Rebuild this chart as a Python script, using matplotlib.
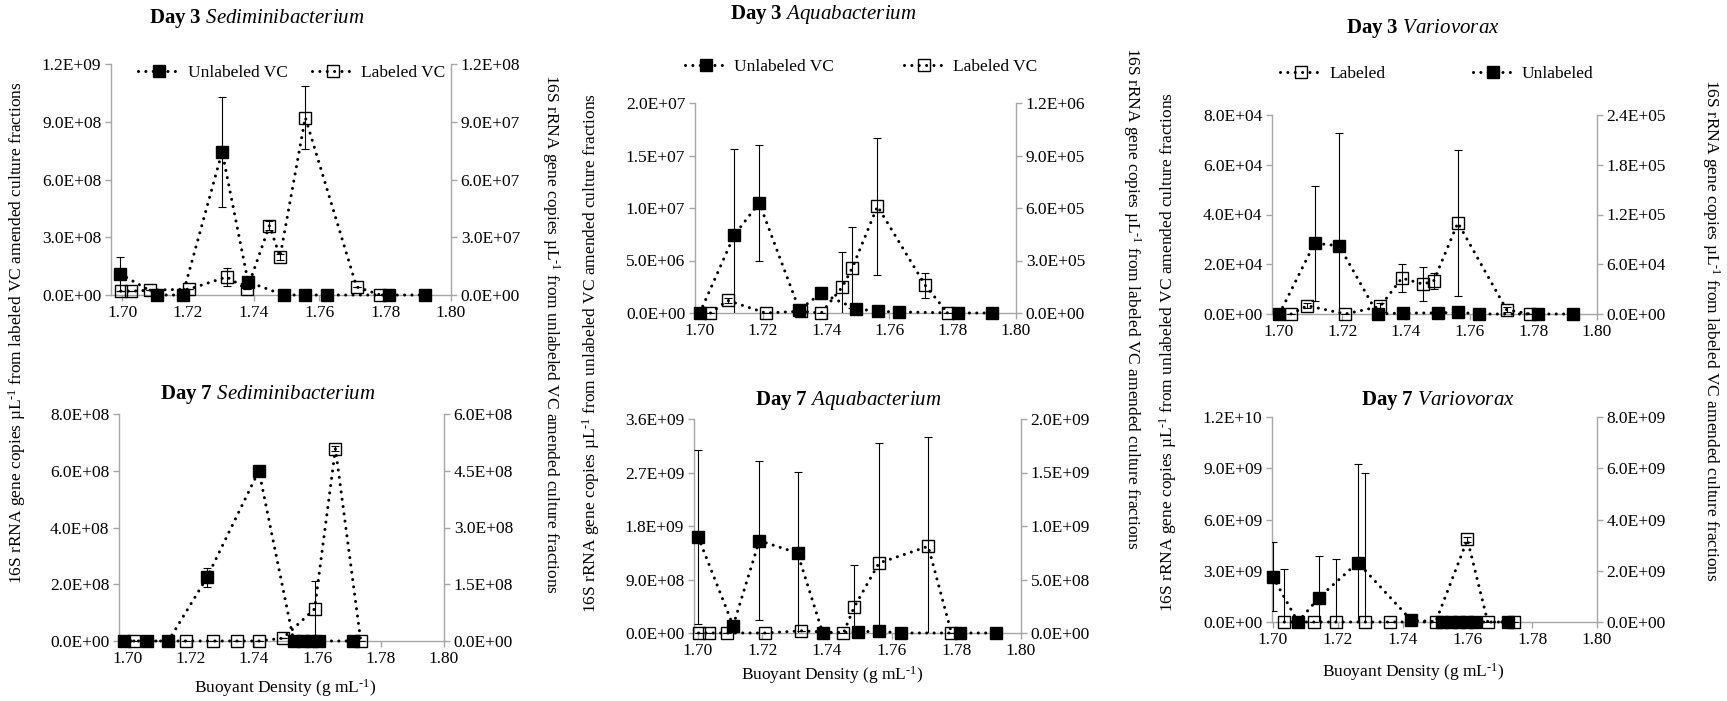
import matplotlib
matplotlib.use("Agg")
import matplotlib.pyplot as plt
from matplotlib.ticker import FuncFormatter, MultipleLocator
from matplotlib.lines import Line2D

plt.rcParams['font.family'] = ['Liberation Serif', 'DejaVu Serif']
plt.rcParams['mathtext.fontset'] = 'custom'
plt.rcParams['mathtext.rm'] = 'Liberation Serif'
plt.rcParams['mathtext.it'] = 'Liberation Serif:italic'
plt.rcParams['mathtext.bf'] = 'Liberation Serif:bold'

W, H = 1727, 701

# Day 3 Sediminibacterium
a_lab_x = [1.6996, 1.7028, 1.7084, 1.7203, 1.7318, 1.7380, 1.7448, 1.7480, 1.7557, 1.7713, 1.7785]
a_lab_y = [2.0e7, 2.0e7, 2.5e7, 3.0e7, 9.4e7, 3.0e7, 3.61e8, 1.98e8, 9.22e8, 4.2e7, 0]
a_lab_e = [0, 0, 0, 0, 4.7e7, 0, 2.5e7, 1.5e7, 1.65e8, 0, 0]
a_unl_x = [1.6994, 1.7107, 1.7184, 1.7304, 1.7383, 1.7492, 1.7556, 1.7623, 1.7811, 1.7921]
a_unl_y = [1.1e7, 0, 0, 7.44e7, 6.8e6, 0, 0, 0, 0, 0]
a_unl_e = [9.0e6, 0, 0, 2.85e7, 1.0e6, 0, 0, 0, 0, 0]

# Day 7 Sediminibacterium
b_lab_x = [1.7020, 1.7185, 1.7269, 1.7347, 1.7415, 1.7491, 1.7591, 1.7657, 1.7737]
b_lab_y = [0, 0, 0, 0, 0, 1.0e7, 1.13e8, 6.78e8, 0]
b_lab_e = [0, 0, 0, 0, 0, 0, 9.7e7, 1.0e7, 0]
b_unl_x = [1.6988, 1.7062, 1.7129, 1.7251, 1.7415, 1.7525, 1.7555, 1.7580, 1.7605, 1.7713]
b_unl_y = [0, 0, 0, 1.68e8, 4.5e8, 0, 0, 0, 0, 0]
b_unl_e = [0, 0, 0, 2.5e7, 0, 0, 0, 0, 0, 0]

# Day 3 Aquabacterium
c_unl_x = [1.7000, 1.7109, 1.7188, 1.7315, 1.7384, 1.7494, 1.7565, 1.7629, 1.7817, 1.7925]
c_unl_y = [0, 7.4e6, 1.05e7, 3e5, 1.9e6, 4e5, 1.5e5, 1e5, 0, 0]
c_unl_e = [0, 8.2e6, 5.5e6, 0, 6e5, 0, 0, 0, 0, 0]
c_lab_x = [1.7034, 1.7088, 1.7208, 1.7320, 1.7384, 1.7451, 1.7483, 1.7562, 1.7713, 1.7784]
c_lab_y = [0, 7.2e4, 0, 1e4, 0, 1.49e5, 2.6e5, 6.1e5, 1.58e5, 0]
c_lab_e = [0, 1.5e4, 0, 0, 0, 2.0e5, 2.3e5, 3.9e5, 7e4, 0]

# Day 7 Aquabacterium
d_unl_x = [1.7002, 1.7110, 1.7191, 1.7309, 1.7387, 1.7497, 1.7561, 1.7628, 1.7812, 1.7923]
d_unl_y = [1.615e9, 1.23e8, 1.553e9, 1.346e9, 0, 2e7, 3e7, 0, 0, 0]
d_unl_e = [1.47e9, 6e7, 1.34e9, 1.37e9, 0, 0, 0, 0, 0, 0]
d_lab_x = [1.7003, 1.7035, 1.7091, 1.7210, 1.7320, 1.7451, 1.7484, 1.7561, 1.7713, 1.7785]
d_lab_y = [0, 0, 0, 0, 2e7, 0, 2.4e8, 6.54e8, 8.1e8, 0]
d_lab_e = [0, 0, 0, 0, 0, 0, 4.0e8, 1.12e9, 1.02e9, 0]

# Day 3 Variovorax
e_unl_x = [1.7002, 1.7113, 1.7190, 1.7311, 1.7390, 1.7499, 1.7563, 1.7628, 1.7816, 1.7925]
e_unl_y = [0, 2.85e4, 2.74e4, 0, 4e2, 4e2, 7e2, 0, 0, 0]
e_unl_e = [0, 2.31e4, 4.55e4, 0, 0, 0, 0, 0, 0, 0]
e_lab_x = [1.7039, 1.7090, 1.7209, 1.7319, 1.7387, 1.7454, 1.7487, 1.7563, 1.7716, 1.7789]
e_lab_y = [0, 1.0e4, 0, 9.2e3, 4.33e4, 3.6e4, 4.0e4, 1.1e5, 5.2e3, 0]
e_lab_e = [0, 3e3, 0, 4e3, 1.73e4, 2.05e4, 1.0e4, 8.8e4, 3e3, 0]

# Day 7 Variovorax
f_unl_x = [1.7000, 1.7077, 1.7142, 1.7262, 1.7427, 1.7523, 1.7548, 1.7573, 1.7598, 1.7623, 1.7724]
f_unl_y = [2.64e9, 0, 1.43e9, 3.48e9, 1.0e8, 0, 0, 0, 0, 0, 0]
f_unl_e = [2.02e9, 0, 2.43e9, 5.78e9, 0, 0, 0, 0, 0, 0, 0]
f_lab_x = [1.7035, 1.7127, 1.7196, 1.7283, 1.7360, 1.7502, 1.7600, 1.7663, 1.7744]
f_lab_y = [0, 0, 0, 0, 0, 0, 3.22e9, 0, 0]
f_lab_e = [2.06e9, 0, 2.44e9, 5.81e9, 0, 0, 1.0e8, 0, 0]

x_ticks = [1.70, 1.72, 1.74, 1.76, 1.78, 1.80]

GRAY = '#a6a6a6'
DOT = (0, (0.01, 2.4))
FS = 12.5
SUP = r"$^{\text{-1}}$"

fig = plt.figure(figsize=(W / 100, H / 100), dpi=100)


def px_axes(l, r, t, b):
    return fig.add_axes([l / W, 1 - b / H, (r - l) / W, (b - t) / H])


def sci(v, pos):
    return f"{v:.1E}"


def draw(ax, x, y, e, filled):
    ax.errorbar(x, y, yerr=[e, e], fmt='none', ecolor='k', elinewidth=0.8,
                capsize=3, capthick=0.8, zorder=3)
    ax.plot(x, y, color='k', lw=2.2, ls=DOT, dash_capstyle='round',
            marker='s', ms=8.5, mec='k', mew=1.0,
            mfc='k' if filled else 'none', clip_on=False, zorder=4)


def panel(box, xmin, lmax, lstep, rmax, rstep, left, right, title, xlabel=None):
    ax = px_axes(*box)
    ax2 = ax.twinx()
    ax.set_xlim(xmin, 1.80)
    ax.set_ylim(0, lmax)
    ax2.set_ylim(0, rmax)
    ax.set_xticks(x_ticks)
    ax.xaxis.set_major_formatter(FuncFormatter(lambda v, p: f"{v:.2f}"))
    ax.yaxis.set_major_locator(MultipleLocator(lstep))
    ax2.yaxis.set_major_locator(MultipleLocator(rstep))
    ax.yaxis.set_major_formatter(FuncFormatter(sci))
    ax2.yaxis.set_major_formatter(FuncFormatter(sci))
    for a in (ax, ax2):
        for s in a.spines.values():
            s.set_color(GRAY)
            s.set_linewidth(1.0)
        a.spines['top'].set_visible(False)
        a.tick_params(colors=GRAY, labelcolor='k', labelsize=FS, length=4,
                      width=1.0, direction='out', pad=3)
        a.patch.set_visible(False)
    ax.spines['right'].set_visible(False)
    ax2.spines['left'].set_visible(False)
    ax2.spines['bottom'].set_visible(False)
    draw(ax, *left)
    draw(ax2, *right)
    fig.text(title[1] / W, 1 - title[2] / H, title[0], ha='center', va='center', fontsize=15)
    if xlabel:
        fig.text(xlabel[0] / W, 1 - xlabel[1] / H, "Buoyant Density (g mL" + SUP + ")",
                 ha='center', va='center', fontsize=FS)
    return ax, ax2


def ylab(x, y, which, rot):
    fig.text(x / W, 1 - y / H,
             "16S rRNA gene copies \u00b5L" + SUP + " from " + which + " VC amended culture fractions",
             rotation=rot, ha='center', va='center', fontsize=12.5)


panel((111, 451, 64, 295), 1.6966, 1.2e9, 3e8, 1.2e8, 3e7,
      (a_lab_x, a_lab_y, a_lab_e, False), (a_unl_x, a_unl_y, a_unl_e, True),
      (r"$\mathbf{Day\ 3}$ $\mathit{Sediminibacterium}$", 257, 19))
panel((119, 444, 414, 641), 1.6973, 8e8, 2e8, 6e8, 1.5e8,
      (b_lab_x, b_lab_y, b_lab_e, False), (b_unl_x, b_unl_y, b_unl_e, True),
      (r"$\mathbf{Day\ 7}$ $\mathit{Sediminibacterium}$", 268, 395), xlabel=(285, 688))
panel((695, 1016, 103, 313), 1.6985, 2e7, 5e6, 1.2e6, 3e5,
      (c_unl_x, c_unl_y, c_unl_e, True), (c_lab_x, c_lab_y, c_lab_e, False),
      (r"$\mathbf{Day\ 3}$ $\mathit{Aquabacterium}$", 823, 15))
panel((694, 1021, 419, 633), 1.6989, 3.6e9, 9e8, 2e9, 5e8,
      (d_unl_x, d_unl_y, d_unl_e, True), (d_lab_x, d_lab_y, d_lab_e, False),
      (r"$\mathbf{Day\ 7}$ $\mathit{Aquabacterium}$", 848, 400), xlabel=(832, 675))
panel((1272, 1597, 115, 314), 1.6979, 8e4, 2e4, 2.4e5, 6e4,
      (e_unl_x, e_unl_y, e_unl_e, True), (e_lab_x, e_lab_y, e_lab_e, False),
      (r"$\mathbf{Day\ 3}$ $\mathit{Variovorax}$", 1423, 28))
panel((1272, 1597, 417, 622), 1.6997, 1.2e10, 3e9, 8e9, 2e9,
      (f_unl_x, f_unl_y, f_unl_e, True), (f_lab_x, f_lab_y, f_lab_e, False),
      (r"$\mathbf{Day\ 7}$ $\mathit{Variovorax}$", 1438, 400), xlabel=(1413, 672))

ylab(17, 333, "labeled", 90)
ylab(551, 334, "unlabeled", -90)
ylab(591, 353, "unlabeled", 90)
ylab(1132, 298, "labeled", -90)
ylab(1168, 352, "unlabeled", 90)
ylab(1711, 330, "labeled", -90)


def handle(filled):
    return Line2D([], [], color='k', lw=2.2, ls=DOT, dash_capstyle='round', marker='s',
                  ms=8.5, mec='k', mew=1.0, mfc='k' if filled else 'none')


def legend(cx, cy, items, spacing):
    fig.legend([handle(f) for f, _ in items], [t for _, t in items], loc='center',
               bbox_to_anchor=(cx / W, 1 - cy / H), ncol=2, frameon=False, fontsize=FS,
               handlelength=2.4, handletextpad=0.45, columnspacing=spacing)


legend(292, 73, [(True, "Unlabeled VC"), (False, "Labeled VC")], 1.4)
legend(861, 67, [(True, "Unlabeled VC"), (False, "Labeled VC")], 4.0)
legend(1437, 74, [(False, "Labeled"), (True, "Unlabeled")], 5.0)

fig.savefig("out.png", dpi=100)
